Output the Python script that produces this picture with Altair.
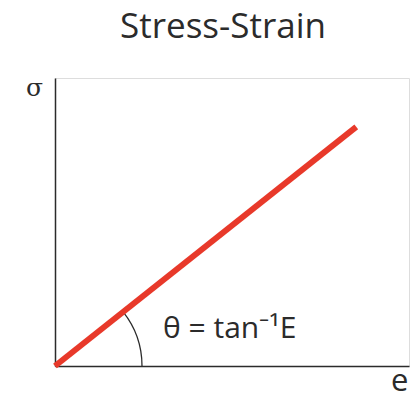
import math
import altair as alt
import pandas as pd

# Data
strain = [0.0, 0.851]
stress = [0.0, 0.830]
title_text = "Stress-Strain"
x_label = "e"
y_label = "σ"
angle_label = "θ = tan⁻¹E"

W, H = 354, 288
line_df = pd.DataFrame({"strain": strain, "stress": stress})
origin_df = pd.DataFrame({"strain": [strain[0]], "stress": [stress[0]], "label": [angle_label]})

# angle of the line in pixel space (derived from data + plot size)
ang = math.atan2((stress[1] - stress[0]) * H, (strain[1] - strain[0]) * W)

xs = alt.Scale(domain=[0, 1], nice=False, zero=True)
ys = alt.Scale(domain=[0, 1], nice=False, zero=True)

x_axis = alt.Axis(ticks=False, labels=False, grid=False, domainColor="#2b2b2b", domainWidth=1.5,
                  title=x_label, titleAngle=0, titleX=W - 1, titleY=24, titleAlign="right",
                  titleBaseline="alphabetic", titleFont="Open Sans", titleFontSize=31,
                  titleFontWeight="normal", titleColor="#2b2b2b")
y_axis = alt.Axis(ticks=False, labels=False, grid=False, domainColor="#2b2b2b", domainWidth=1.5,
                  title=y_label, titleAngle=0, titleX=-21, titleY=17, titleAlign="center",
                  titleBaseline="alphabetic", titleFont="DejaVu Serif", titleFontSize=25,
                  titleFontWeight="normal", titleColor="#2b2b2b")

line = alt.Chart(line_df).mark_line(color="#e8392a", strokeWidth=6, strokeCap="butt").encode(
    x=alt.X("strain:Q", scale=xs, axis=x_axis),
    y=alt.Y("stress:Q", scale=ys, axis=y_axis),
)

arc = alt.Chart(origin_df).mark_arc(
    theta=math.pi / 2 - ang, theta2=math.pi / 2, radius=87, radius2=87,
    fillOpacity=0, stroke="#2b2b2b", strokeWidth=1.3,
).encode(x=alt.X("strain:Q", scale=xs), y=alt.Y("stress:Q", scale=ys))

label = alt.Chart(origin_df).mark_text(
    align="left", baseline="alphabetic", dx=108, dy=-28,
    font="Open Sans", fontSize=30, color="#2b2b2b",
).encode(x=alt.X("strain:Q", scale=xs), y=alt.Y("stress:Q", scale=ys), text="label:N")

chart = alt.layer(arc, line, label).properties(
    width=W, height=H,
    title=alt.TitleParams(title_text, font="Open Sans", fontSize=35, fontWeight="normal",
                          color="#2b2b2b", anchor="middle", dx=-9, offset=30),
    autosize=alt.AutoSizeParams(type="none"),
    padding={"left": 47, "top": 70, "right": 2, "bottom": 29},
).configure_view(stroke=None).configure(background="white")

chart.save("out.html", embed_options={"renderer": "svg", "actions": False})
